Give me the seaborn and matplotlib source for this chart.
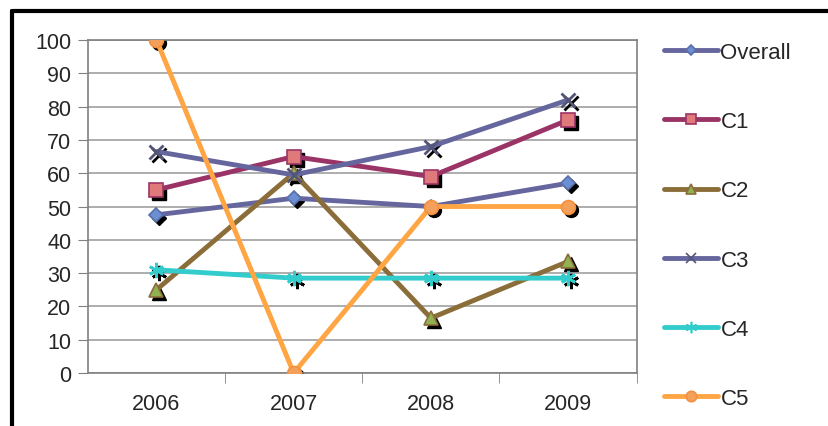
import numpy as np
import pandas as pd
import matplotlib
matplotlib.use("Agg")
import matplotlib.pyplot as plt
import matplotlib.transforms as mtransforms
from matplotlib.lines import Line2D
import seaborn as sns

sns.set_style("white")
plt.rcParams['font.family'] = ['Liberation Sans', 'DejaVu Sans']

years = ['2006', '2007', '2008', '2009']
overall = [47.5, 52.5, 50, 57]
c1 = [55, 65, 59, 76]
c2 = [25, 60, 16.5, 33.5]
c3 = [66.5, 59.5, 68, 82]
c4 = [31, 28.5, 28.5, 28.5]
c5 = [100, 0, 50, 50]

names = ['Overall', 'C1', 'C2', 'C3', 'C4', 'C5']
series = [overall, c1, c2, c3, c4, c5]
line_colors = ['#66669E', '#9B3466', '#8B6D3A', '#66669E', '#33CCCC', '#FFA544']
face_colors = ['#6C8FD4', '#E07A7A', '#92B152', '#777777', '#33CCCC', '#F4A05A']
edge_colors = ['#5A6FA8', '#9B3466', '#8B6D3A', '#555577', '#33CCCC', '#F29040']
markers = ['D', 's', '^', 'x', (6, 2, 0), 'o']
msizes = [7, 10, 10, 10, 11, 10]

fig = plt.figure(figsize=(8.29, 4.27), dpi=100)
ax = fig.add_axes([0.106, 0.124, 0.662, 0.78])

shadow = mtransforms.offset_copy(ax.transData, fig=fig, x=3, y=-3, units='dots')

handles = []
for name, vals, lc, fc, ec, mk, ms in zip(names, series, line_colors, face_colors,
                                          edge_colors, markers, msizes):
    df = pd.DataFrame({'year': years, 'value': vals})
    # black drop shadow behind each marker
    ax.plot(np.arange(len(years)), vals, linestyle='none', marker=mk, markersize=ms,
            color='black', markeredgecolor='black', markeredgewidth=2 if mk in ('x', (6, 2, 0)) else 1,
            transform=shadow, zorder=2)
    sns.lineplot(data=df, x='year', y='value', ax=ax, color=lc, linewidth=3.5,
                 marker=mk, markersize=ms, markerfacecolor=fc, markeredgecolor=ec,
                 markeredgewidth=2 if mk in ('x', (6, 2, 0)) else 1.2, zorder=3)
    handles.append(Line2D([], [], color=lc, linewidth=3.5, marker=mk,
                          markersize=ms * 0.75, markerfacecolor=fc,
                          markeredgecolor=ec, markeredgewidth=1.2))

ax.set_xlim(-0.5, 3.5)
ax.set_ylim(0, 100)
ax.set_yticks(range(0, 101, 10))
ax.set_xticks(range(len(years)))
ax.set_xticklabels(years)
ax.set_xlabel('')
ax.set_ylabel('')
ax.yaxis.grid(True, color='#A0A0A0', linewidth=1.2)
ax.set_axisbelow(True)
for side in ['top', 'right', 'left', 'bottom']:
    ax.spines[side].set_color('#808080')
    ax.spines[side].set_linewidth(1.2)
ax.tick_params(axis='y', which='both', left=True, length=7, color='#808080',
               labelsize=15.5, pad=5)
ax.tick_params(axis='x', bottom=False, labelsize=15.5, pad=11)
# category boundary ticks on the x axis
ax.set_xticks([0.5, 1.5, 2.5, 3.5], minor=True)
ax.tick_params(axis='x', which='minor', bottom=True, length=7, color='#808080')

fig.legend(handles=handles, labels=names, loc='upper left',
           bbox_to_anchor=(0.79, 0.92), frameon=False, fontsize=16,
           handlelength=2.45, handletextpad=0.1, labelspacing=2.17,
           borderaxespad=0)

# outer black frame (top and left edges)
fig.add_artist(Line2D([0.0145, 1.0], [0.972, 0.972], transform=fig.transFigure,
                      color='black', linewidth=3))
fig.add_artist(Line2D([0.0145, 0.0145], [0.0, 0.972], transform=fig.transFigure,
                      color='black', linewidth=3))

fig.savefig('out.png', dpi=100)
